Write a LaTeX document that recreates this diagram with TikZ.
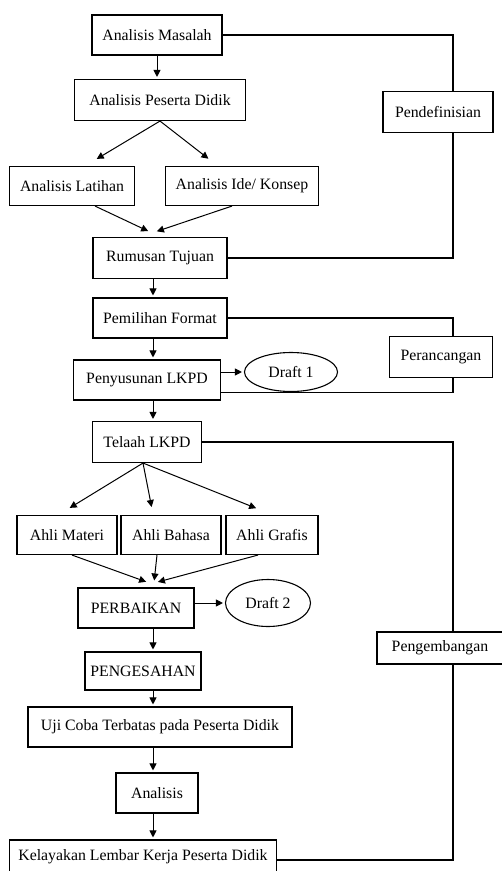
\documentclass[tikz,border=0pt]{standalone}
\usepackage{fontspec}
\setmainfont{Liberation Serif}
\usetikzlibrary{shapes.geometric,arrows.meta}

\begin{document}
\begin{tikzpicture}[x=1pt,y=-1pt,
    box/.style={draw,line width=1.1pt,inner sep=2pt,minimum height=40pt,font=\fontsize{15.8}{18}\selectfont},
    oval/.style={draw,ellipse,line width=1.1pt,inner sep=1pt,font=\fontsize{15.8}{18}\selectfont},
    arr/.style={line width=1pt,shorten >=2pt,-{Triangle[length=7pt,width=7pt]}},
    link/.style={line width=1.1pt}]
        % Fix page size
        \useasboundingbox (0,0) rectangle (502,871);
        \coordinate (rail) at (453,0);
        \coordinate (spine) at (153,0);
        % Draw steps
        \node[box,minimum width=130pt] (masalah) at (157,35) {Analisis Masalah};
        \node[box,minimum width=171pt,minimum height=41pt] (apd) at (160,100) {Analisis Peserta Didik};
        \node[box,minimum width=125pt,minimum height=39pt] (latihan) at (72,186) {Analisis Latihan};
        \node[box,minimum width=153pt,minimum height=39pt] (ide) at (242,186) {Analisis Ide/ Konsep};
        \node[box,minimum width=134pt,minimum height=41pt] (rumusan) at (160,258) {Rumusan Tujuan};
        \node[box,minimum width=134pt] (pemilihan) at (160,318) {Pemilihan Format};
        \node[box,minimum width=147pt] (susun) at (147,380) {Penyusunan LKPD};
        \node[oval,minimum width=93pt,minimum height=39pt] (draft1) at (291,372) {Draft 1};
        \node[box,minimum width=109pt,minimum height=41pt] (telaah) at (147,442) {Telaah LKPD};
        \node[box,minimum width=100pt,minimum height=39pt] (materi) at (67,535) {Ahli Materi};
        \node[box,minimum width=100pt,minimum height=39pt] (bahasa) at (171,535) {Ahli Bahasa};
        \node[box,minimum width=92pt,minimum height=39pt] (grafis) at (272,535) {Ahli Grafis};
        \node[box,minimum width=116pt] (perbaikan) at (136,608) {PERBAIKAN};
        \node[oval,minimum width=85pt,minimum height=47pt] (draft2) at (268,603) {Draft 2};
        \node[box,minimum width=116pt,minimum height=38pt] (pengesahan) at (143,671) {PENGESAHAN};
        \node[box,minimum width=264pt] (uji) at (160,727) {Uji Coba Terbatas pada Peserta Didik};
        \node[box,minimum width=82pt] (analisis) at (157,793) {Analisis};
        \node[box,minimum width=267pt,minimum height=34pt] (kelayakan) at (143,857) {Kelayakan Lembar Kerja Peserta Didik};
        % Draw phases
        \node[box,minimum width=110pt,minimum height=41pt] (pendef) at (438,112) {Pendefinisian};
        \node[box,minimum width=103pt,minimum height=41pt] (rancang) at (441,357) {Perancangan};
        \node[box,minimum width=126pt,minimum height=32pt] (kembang) at (440,648) {Pengembangan};
        % Draw phase brackets
        \draw[link] (masalah.east) -| (rail |- pendef.north);
        \draw[link] (pendef.south -| rail) |- (rumusan.east);
        \draw[link] (pemilihan.east) -| (rail |- rancang.north);
        \draw[link] ([yshift=8pt]susun.south east) -| (rail |- rancang.south);
        \draw[link] (telaah.east) -| (rail |- kembang.north);
        \draw[link] (kembang.south -| rail) |- ([yshift=-3pt]kelayakan.east);
        % Draw arrows
        \draw[arr] (masalah.south) -- (masalah.south |- apd.north);
        \draw[arr] (apd.south) -- ([xshift=23pt,yshift=6pt]latihan.north);
        \draw[arr] (apd.south) -- ([xshift=-32pt,yshift=6pt]ide.north);
        \draw[arr] ([xshift=23pt]latihan.south) -- ([xshift=-10pt,yshift=5pt]rumusan.north);
        \draw[arr] ([xshift=-10pt]ide.south) -- ([xshift=-5pt,yshift=5pt]rumusan.north);
        \draw[arr] (spine |- rumusan.south) -- (spine |- pemilihan.north);
        \draw[arr] (spine |- pemilihan.south) -- (spine |- susun.north);
        \draw[arr] (susun.east |- draft1.west) -- (draft1.west);
        \draw[arr] (spine |- susun.south) -- (spine |- telaah.north);
        \draw[arr] ([xshift=-4pt]telaah.south) -- ([xshift=1pt,yshift=6pt]materi.north);
        \draw[arr] ([xshift=-4pt]telaah.south) -- ([xshift=-19pt,yshift=6pt]bahasa.north);
        \draw[arr] ([xshift=-4pt]telaah.south) -- ([xshift=-14pt,yshift=6pt]grafis.north);
        \draw[arr] ([xshift=5pt]materi.south) -- ([xshift=12pt,yshift=5pt]perbaikan.north);
        \draw[arr] ([xshift=-14pt]bahasa.south) -- ([xshift=18pt,yshift=5pt]perbaikan.north);
        \draw[arr] ([xshift=-14pt]grafis.south) -- ([xshift=20pt,yshift=5pt]perbaikan.north);
        \draw[arr] (perbaikan.east |- draft2.west) -- (draft2.west);
        \draw[arr] (spine |- perbaikan.south) -- (spine |- pengesahan.north);
        \draw[arr] (spine |- pengesahan.south) -- (spine |- uji.north);
        \draw[arr] (spine |- uji.south) -- (spine |- analisis.north);
        \draw[arr] (spine |- analisis.south) -- (spine |- kelayakan.north);
\end{tikzpicture}
\end{document}
